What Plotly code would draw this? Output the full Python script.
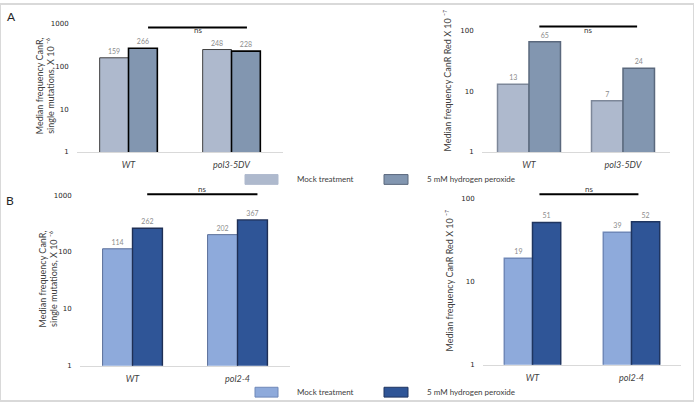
import plotly.graph_objects as go

W, H = 694, 405

categories_A = ["WT", "pol3-5DV"]
categories_B = ["WT", "pol2-4"]
series_names = ["Mock treatment", "5 mM hydrogen peroxide"]

A_single_mock = [159, 248]
A_single_h2o2 = [266, 228]
A_red_mock = [13, 7]
A_red_h2o2 = [65, 24]
B_single_mock = [114, 202]
B_single_h2o2 = [262, 367]
B_red_mock = [19, 39]
B_red_h2o2 = [51, 52]

log_ticks_1000 = [1, 10, 100, 1000]
log_ticks_100 = [1, 10, 100]

A_colors = ["#aeb9cd", "#8296b0"]
B_colors = ["#8eaadb", "#2f5597"]

FONT = "Lato, 'Open Sans', sans-serif"

def px_x(a, b):
    return [a / W, b / W]

def px_y(top, bottom):
    return [1 - bottom / H, 1 - top / H]

panels = [
    dict(x=(77, 283), y=(20, 151), yr=[0, 3], w=0.28, cats=categories_A,
         mock=A_single_mock, h2o2=A_single_h2o2, cols=A_colors,
         lines=["#404040", "#000000"], lw=[1, 1.6], ticks=log_ticks_1000),
    dict(x=(482, 670), y=(27, 151), yr=[0, 2], w=0.335, cats=categories_A,
         mock=A_red_mock, h2o2=A_red_h2o2, cols=A_colors,
         lines=["#7d8799", "#5a687d"], lw=[1.5, 1.5], ticks=log_ticks_100),
    dict(x=(80, 290), y=(195, 369), yr=[0, 3], w=0.285, cats=categories_B,
         mock=B_single_mock, h2o2=B_single_h2o2, cols=B_colors,
         lines=["#5b6f9a", "#1f2f55"], lw=[1, 1.4], ticks=log_ticks_1000),
    dict(x=(483, 681), y=(198, 368), yr=[0, 2], w=0.285, cats=categories_B,
         mock=B_red_mock, h2o2=B_red_h2o2, cols=B_colors,
         lines=["#6f88b8", "#1f3560"], lw=[1.5, 1.5], ticks=log_ticks_100),
]

fig = go.Figure()
layout = dict(
    width=W, height=H, margin=dict(l=0, r=0, t=0, b=0),
    paper_bgcolor="white", plot_bgcolor="white", showlegend=False,
    barmode="overlay", font=dict(family=FONT, color="#404040"),
)

for i, p in enumerate(panels):
    n = "" if i == 0 else str(i + 1)
    xa, ya = "x" + n, "y" + n
    xs = list(range(len(p["cats"])))
    for j, (vals, name) in enumerate([(p["mock"], series_names[0]), (p["h2o2"], series_names[1])]):
        fig.add_trace(go.Bar(
            x=xs, y=vals, name=name, width=p["w"],
            offset=-p["w"] if j == 0 else 0,
            marker=dict(color=p["cols"][j], line=dict(color=p["lines"][j], width=p["lw"][j])),
            text=[str(v) for v in vals], textposition="outside",
            textfont=dict(size=7, color="#8c8c8c", family=FONT),
            cliponaxis=False, xaxis=xa, yaxis=ya, hoverinfo="skip",
        ))
    layout["xaxis" + n] = dict(
        domain=px_x(*p["x"]), range=[-0.5, 1.5], anchor=ya,
        tickvals=xs, ticktext=p["cats"],
        tickfont=dict(size=9, color="#404040", family=FONT, style="italic"),
        showline=True, linecolor="#d9d9d9", linewidth=1,
        showgrid=False, zeroline=False, ticks="outside", ticklen=4,
        tickcolor="rgba(0,0,0,0)", fixedrange=True,
    )
    layout["yaxis" + n] = dict(
        domain=px_y(*p["y"]), type="log", range=p["yr"], anchor=xa,
        tickvals=p["ticks"], ticktext=[str(t) for t in p["ticks"]],
        tickfont=dict(size=7, color="#262626", family="DejaVu Sans"),
        showline=False, showgrid=False, zeroline=False,
        ticks="outside", ticklen=6, tickcolor="rgba(0,0,0,0)", fixedrange=True,
    )

fig.update_layout(**layout)

annotations = []
shapes = []

def ann(x, y, text, size=9, color="#404040", angle=0, xanchor="center", family=FONT):
    annotations.append(dict(x=x / W, y=1 - y / H, xref="paper", yref="paper", text=text,
                            showarrow=False, textangle=angle, xanchor=xanchor, yanchor="middle",
                            font=dict(size=size, color=color, family=family)))

ann(11, 13, "A", size=12, color="#262626")
ann(10, 200, "B", size=12, color="#262626")

title_single = "Median frequency CanR,<br>single mutations, X 10 \u207b\u2076"
title_red = "Median frequency CanR Red X 10 \u207b\u2077"
ann(45, 84, title_single, size=9, angle=-90)
ann(447, 78, title_red, size=9, angle=-90)
ann(48, 281, title_single, size=9, angle=-90)
ann(449, 282, title_red, size=9, angle=-90)

ns_bars = [
    ("x", 0.19, 1.15, 24, 19),
    ("x2", 0.11, 1.15, 23, 19),
    ("x3", 0.14, 1.19, 194, 189),
    ("x4", 0.07, 1.07, 194, 189),
]
for xr, x0, x1, yl, yt in ns_bars:
    shapes.append(dict(type="line", xref=xr, yref="paper", x0=x0, x1=x1,
                       y0=1 - yl / H, y1=1 - yl / H, line=dict(color="#000000", width=2)))
    annotations.append(dict(x=(x0 + x1) / 2, y=1 - yt / H, xref=xr, yref="paper", text="ns",
                            showarrow=False, font=dict(size=8, color="#404040", family=FONT)))

for ycen, cols, lines, sw in [(179, A_colors, ["#aeb9cd", "#5a687d"], (245, 278)),
                              (396, B_colors, ["#6f88b8", "#1f3560"], (255, 278))]:
    boxes = [(sw[0], sw[1]), (384, 408)]
    for k in range(2):
        shapes.append(dict(type="rect", xref="paper", yref="paper",
                           x0=boxes[k][0] / W, x1=boxes[k][1] / W,
                           y0=1 - (ycen + 5) / H, y1=1 - (ycen - 5) / H,
                           fillcolor=cols[k], line=dict(color=lines[k], width=1)))
    ann(295, ycen, series_names[0], size=8, xanchor="left")
    ann(425, ycen, series_names[1], size=8, xanchor="left")

shapes.append(dict(type="rect", xref="paper", yref="paper", x0=0, x1=1, y0=0, y1=1,
                   line=dict(color="#d9d9d9", width=2)))

fig.update_layout(annotations=annotations, shapes=shapes)
fig.write_html("out.html", config={"displayModeBar": False},
               post_script="document.body.style.margin='0';document.body.style.overflow='hidden';")
